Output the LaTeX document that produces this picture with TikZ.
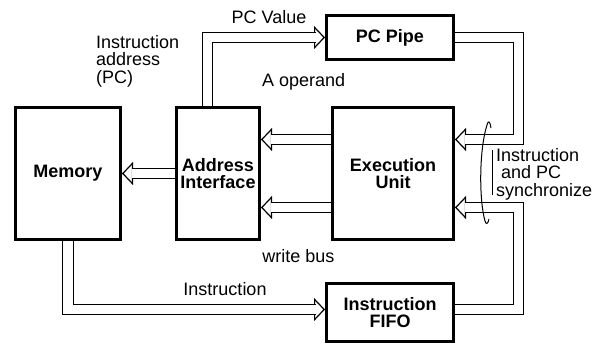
\documentclass[tikz,border=0pt]{standalone}
\usepackage{fontspec}
\setmainfont{Liberation Sans}
\usepackage{tikz}
\usetikzlibrary{arrows.meta}
\tikzstyle{unit} = [rectangle, draw=black, line width=3pt, text centered, align=center, font=\fontsize{18}{16.5}\selectfont\bfseries]
\tikzstyle{label} = [font=\fontsize{18}{17.5}\selectfont, inner sep=0pt]
\tikzstyle{bus} = [preaction={draw=black, line width=1.2pt, shorten >=0pt, -{Triangle[fill=white, length=11pt, width=23pt]}},
    draw=black, double=white, double distance=9.5pt, line width=1.2pt, shorten >=9.5pt]

\begin{document}
\begin{tikzpicture}[x=1pt, y=-1pt, node distance=150pt]
    \useasboundingbox (0,0) rectangle (603,345);

        \node (mem) [unit, minimum width=105pt, minimum height=132pt] at (68,173.5) {Memory};
        \node (addr) [unit, minimum width=83pt, minimum height=132pt, right of=mem] {Address\\Interface};
        \node (exec) [unit, minimum width=121pt, minimum height=132pt, right of=addr, xshift=25pt] {Execution\\Unit};
        \node (pcpipe) [unit, minimum width=127pt, minimum height=44pt, above of=exec, xshift=-3pt, yshift=-14pt] {PC Pipe};
        \node (fifo) [unit, minimum width=127pt, minimum height=58pt, below of=exec, xshift=-3pt, yshift=11pt] {Instruction\\FIFO};

        \node (iaddr) [label, anchor=north west, align=left] at (96,35) {Instruction\\address\\(PC)};
        \node (pcval) [label] at (269,17) {PC Value};
        \node (aop) [label, anchor=west] at (262,82) {A operand};
        \node (wbus) [label] at (298.5,256) {write bus};
        \node (instr) [label] at (225,289) {Instruction};
        \node (sync) [label, anchor=west, align=left] at (496,174) {Instruction\\\ and PC\\synchronize};

        \draw [bus] ([xshift=-10.5pt]addr.north) |- (pcpipe.west);
        \draw [bus] (pcpipe.east) -- ++(63.5,0) |- ([yshift=34pt]exec.east);
        \draw [bus] ([yshift=3pt]fifo.east) -- ++(63.5,0) |- ([yshift=-34pt]exec.east);
        \draw [bus] (mem.south) |- ([yshift=3pt]fifo.west);
        \draw [bus] (addr.west) -- (mem.east);
        \draw [bus] ([yshift=34pt]exec.west) -- ([yshift=34pt]addr.east);
        \draw [bus] ([yshift=-34pt]exec.west) -- ([yshift=-34pt]addr.east);

        % bundle mark
        \draw [line width=1pt] (491,128) .. controls (490,121) and (488,120) .. (487,125)
            .. controls (479,150) and (479,200) .. (485,221) .. controls (486,225) and (488,224) .. (489,219);
        \draw [line width=1pt] (492,150) -- (492,195);

    \end{tikzpicture}
\end{document}
